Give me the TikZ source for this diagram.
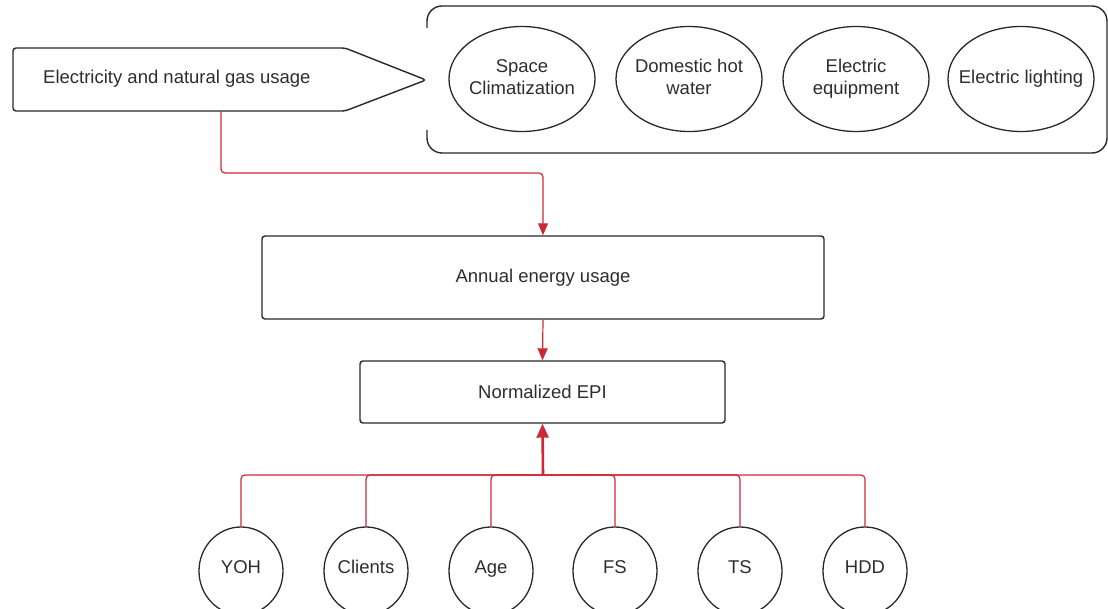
\documentclass[tikz,border=0pt]{standalone}
\usepackage{fontspec}
\setmainfont{Liberation Sans}
\usetikzlibrary{arrows.meta,shapes.geometric}
\definecolor{lred}{RGB}{204,41,54}
\definecolor{ink}{RGB}{40,40,40}
\definecolor{txt}{RGB}{45,45,45}
\newcommand{\ovtext}[2][0pt]{\makebox[0pt]{\raisebox{#1}{\begin{tabular}{@{}c@{}}#2\end{tabular}}}}
\begin{document}
\begin{tikzpicture}[x=1pt,y=-1pt,
  every node/.style={font=\fontsize{18.5}{22}\selectfont, text=txt},
  box/.style={draw=ink, line width=1.4pt, rounded corners=3pt, inner sep=0pt},
  oval/.style={ellipse, draw=ink, line width=1.3pt, inner sep=0pt, align=center},
  bigoval/.style={oval, minimum width=146pt, minimum height=105pt},
  smalloval/.style={oval, minimum width=84pt, minimum height=88pt, text height=11pt, text depth=7pt},
  frame/.style={draw=ink, line width=1.4pt},
  link/.style={draw=lred, line width=1.2pt, rounded corners=4pt, -{Triangle[length=12pt,width=10pt]}},
  tree/.style={draw=lred, line width=1.2pt, rounded corners=4pt},
  bigarrow/.style={draw=lred, line width=2.6pt, -{Triangle[length=14pt,width=12pt]}}]
\useasboundingbox (0,0) rectangle (1108,609);

% source pentagon
\draw[frame, rounded corners=3pt] (13,48) -- (345,48) -- (426,80) -- (345,111) -- (13,111) -- cycle;
\node[anchor=west, inner sep=0pt] (src) at (43,79) {Electricity and natural gas usage};
\coordinate (srcb) at (221,111);

% container of end uses
\draw[frame, rounded corners=15pt] (427,28) -- (427,6) -- (1107,6) -- (1107,153) -- (427,153) -- (427,130);
\node[bigoval] (sc) at (522,79) {\ovtext[4pt]{Space\\Climatization}};
\node[bigoval] (dhw) at (689,79) {\ovtext[2pt]{Domestic hot\\water}};
\node[bigoval] (ee) at (856,79) {\ovtext[2pt]{Electric\\equipment}};
\node[bigoval] (el) at (1021,79) {\ovtext{Electric lighting}};

% main boxes
\node[box, minimum width=562pt, minimum height=83pt] (aeu) at (543,277.5) {Annual energy usage};
\node[box, minimum width=365pt, minimum height=62pt] (epi) at (542.5,392) {Normalized EPI};

% factors
\foreach \n/\t/\x in {yoh/YOH/241, cli/Clients/366, age/Age/491, fs/FS/615, ts/TS/740, hdd/HDD/865}
  \node[smalloval] (\n) at (\x,571) {\t};

\coordinate (j1) at (543,173);
\coordinate (hub) at (543,475);

% connectors
\draw[link] (srcb) |- (j1) -- (aeu.north);
\draw[link] (aeu.south) -- (epi.north);
\foreach \n in {yoh,cli,age,fs,ts,hdd}
  \draw[tree] (\n.north) |- (hub);
\draw[bigarrow] (hub) -- (epi.south);
\end{tikzpicture}
\end{document}
